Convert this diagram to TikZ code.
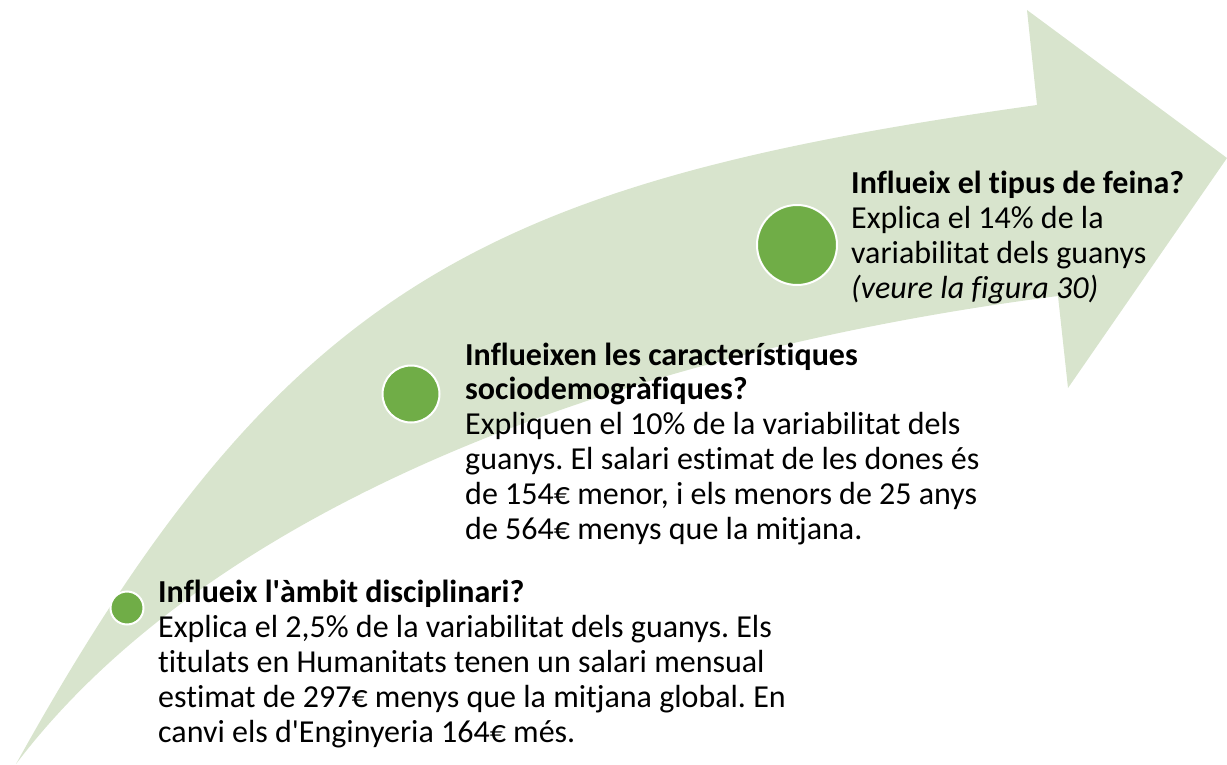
\documentclass[tikz,border=0pt]{standalone}
\usepackage{fontspec}
\setmainfont{Carlito}[Ligatures=NoCommon]
\definecolor{arrowfill}{HTML}{D8E4CD}
\definecolor{dotgreen}{HTML}{70AD47}
\frenchspacing

\tikzset{
  milestone/.style={circle, fill=dotgreen, draw=white, line width=2pt, inner sep=0pt, minimum size=#1},
  info/.style={anchor=base west, align=left, inner sep=0pt, font=\fontsize{32}{34.8}\selectfont},
}

\begin{document}
\begin{tikzpicture}[x=1pt, y=-1pt]
    \useasboundingbox (0,0) rectangle (1227,765);

    % Curved arrow
    \fill[arrowfill] (16,764) .. controls (283,283) and (487,182) .. (1037,105)
        -- (1027,10) -- (1227,158) -- (1068,388) -- (1058,296)
        .. controls (608,354) and (208,511) .. (16,764) -- cycle;

    % Milestones along the arrow
    \node[milestone=33pt] (dotA) at (127,608) {};
    \node[milestone=57pt] (dotB) at (411,394) {};
    \node[milestone=80pt] (dotC) at (797,245) {};

    % Level 1: field of study (anchored on its last line)
    \node[info] (txtA) at (158,742) {\textbf{Influeix l\textquotesingle{}àmbit disciplinari?}\\
        Explica el 2,5\% de la variabilitat dels guanys. Els\\
        titulats en Humanitats tenen un salari mensual\\
        estimat de 297€ menys que la mitjana global. En\\
        canvi els d\textquotesingle{}Enginyeria 164€ més.};

    % Level 2: sociodemographics
    \node[info] (txtB) at (465,539) {\textbf{Influeixen les característiques}\\
        \textbf{sociodemogràfiques?}\\
        Expliquen el 10\% de la variabilitat dels\\
        guanys. El salari estimat de les dones és\\
        de 154€ menor, i els menors de 25 anys\\
        de 564€ menys que la mitjana.};

    % Level 3: type of job
    \node[info] (txtC) at (851,298) {\textbf{Influeix el tipus de feina?}\\
        Explica el 14\% de la\\
        variabilitat dels guanys\\
        \textit{(veure la figura 30)}};
\end{tikzpicture}
\end{document}
